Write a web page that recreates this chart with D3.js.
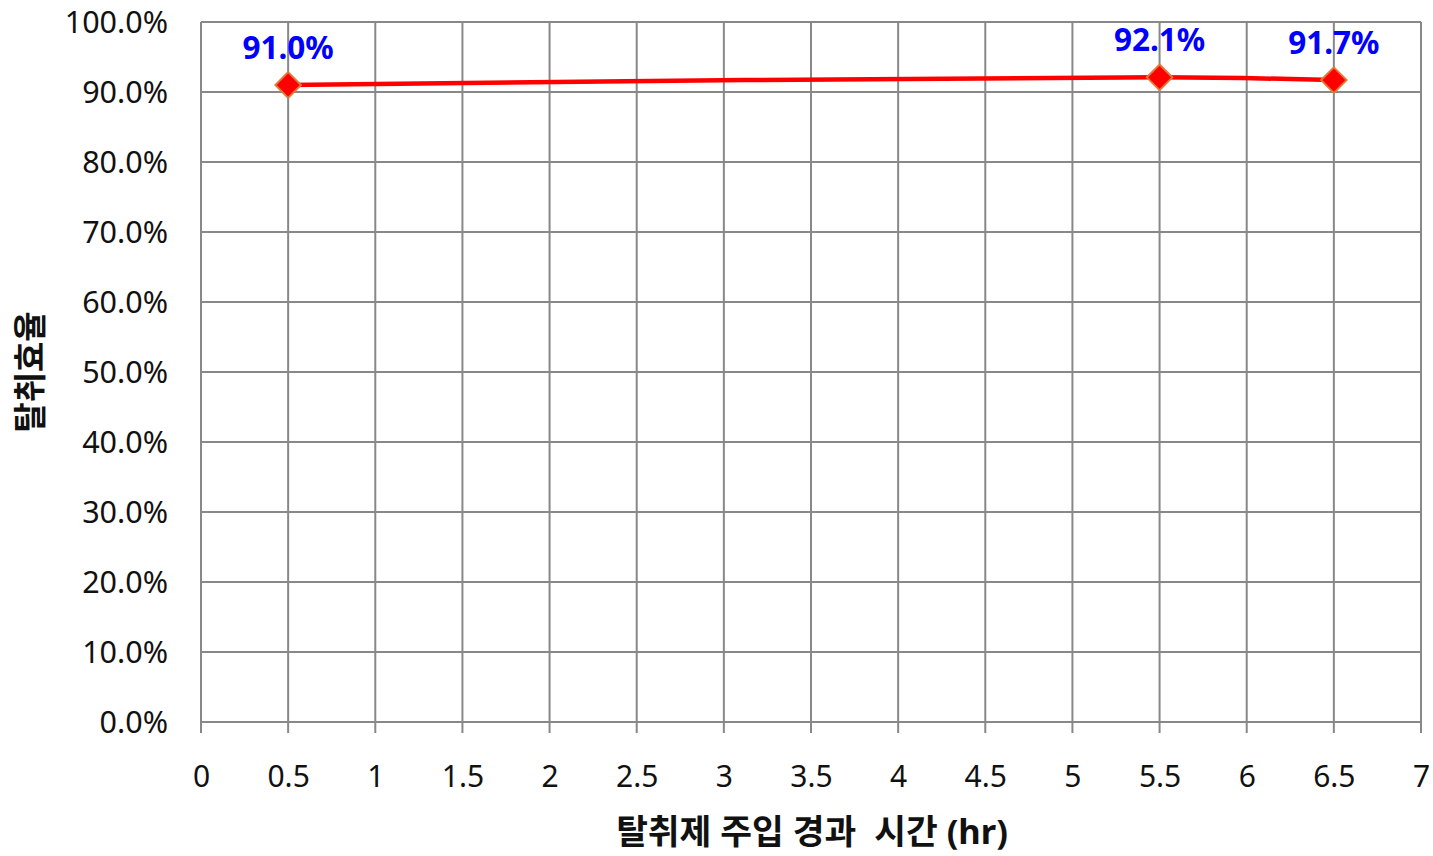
<!DOCTYPE html>
<html>
<head>
<meta charset="utf-8">
<script src="https://cdn.jsdelivr.net/npm/d3@7"></script>
<style>
  body { margin: 0; background: #fff; }
  text { font-family: "Noto Sans", "Noto Sans CJK KR", sans-serif; }
</style>
</head>
<body>
<div id="chart"></div>
<script>
// data
var hours = [0.5, 5.5, 6.5];
var efficiency = [0.91, 0.921, 0.917];
var dataLabels = ["91.0%", "92.1%", "91.7%"];
var xTicks = [0, 0.5, 1, 1.5, 2, 2.5, 3, 3.5, 4, 4.5, 5, 5.5, 6, 6.5, 7];
var yTicks = [0, 0.1, 0.2, 0.3, 0.4, 0.5, 0.6, 0.7, 0.8, 0.9, 1.0];
var xTitle = "탈취제 주입 경과  시간 (hr)";
var yTitle = "탈취효율";

var W = 1433, H = 856;
var margin = { top: 22, right: 12, bottom: 134, left: 201 };
var width = W - margin.left - margin.right;
var height = H - margin.top - margin.bottom;

var svg = d3.select("#chart").append("svg")
  .attr("width", W).attr("height", H);
var g = svg.append("g")
  .attr("transform", `translate(${margin.left},${margin.top})`);

var x = d3.scaleLinear().domain([0, 7]).range([0, width]);
var y = d3.scaleLinear().domain([0, 1]).range([height, 0]);

// grid lines
g.selectAll(".hgrid").data(yTicks).enter().append("line")
  .attr("x1", 0).attr("x2", width)
  .attr("y1", d => y(d)).attr("y2", d => y(d))
  .attr("stroke", "#888").attr("stroke-width", 2);
g.selectAll(".vgrid").data(xTicks).enter().append("line")
  .attr("x1", d => x(d)).attr("x2", d => x(d))
  .attr("y1", 0).attr("y2", height + 11)
  .attr("stroke", "#888").attr("stroke-width", 2);

// x axis labels
var xAxis = g.append("g")
  .attr("transform", `translate(0,${height})`)
  .call(d3.axisBottom(x).tickValues(xTicks).tickSize(0).tickPadding(0)
    .tickFormat(d => d3.format("")(d)));
xAxis.select(".domain").remove();
xAxis.selectAll("text").attr("font-size", 30).attr("fill", "#111")
  .attr("font-family", '"Noto Sans", sans-serif').attr("y", 65).attr("dy", 0);

// y axis labels
var yAxis = g.append("g")
  .call(d3.axisLeft(y).tickValues(yTicks).tickSize(0).tickPadding(33)
    .tickFormat(d3.format(".1%")));
yAxis.select(".domain").remove();
yAxis.selectAll("text").attr("font-size", 30.5).attr("fill", "#111")
  .attr("font-family", '"Noto Sans", sans-serif').attr("dy", "0.34em");

// line
var pts = hours.map((h, i) => ({ h: h, v: efficiency[i], label: dataLabels[i] }));
var line = d3.line()
  .x(d => x(d.h)).y(d => y(d.v))
  .curve(d3.curveCatmullRom.alpha(0.5));
g.append("path").datum(pts)
  .attr("fill", "none").attr("stroke", "#ff0000").attr("stroke-width", 4.5)
  .attr("d", line);

// markers
var diamond = d3.symbol().type(d3.symbolDiamond2).size(300);
g.selectAll(".mark").data(pts).enter().append("path")
  .attr("d", diamond)
  .attr("transform", d => `translate(${x(d.h)},${y(d.v)}) scale(1.18)`)
  .attr("fill", "#ff0000").attr("stroke", "#e07a3a").attr("stroke-width", 1.6);

// data labels
g.selectAll(".lbl").data(pts).enter().append("text")
  .attr("x", d => x(d.h)).attr("y", d => y(d.v) - 26)
  .attr("text-anchor", "middle")
  .attr("font-size", 31.5).attr("font-weight", "bold").attr("fill", "#0000ff")
  .text(d => d.label);

// axis titles
svg.append("text")
  .attr("x", margin.left + width / 2 + 1).attr("y", 844)
  .attr("text-anchor", "middle")
  .attr("font-size", 34.5).attr("font-weight", "bold").attr("fill", "#111")
  .attr("font-family", '"Noto Sans CJK KR", "Noto Sans", sans-serif')
  .attr("xml:space", "preserve").style("white-space", "pre")
  .text(xTitle);
svg.append("text")
  .attr("transform", `translate(42,${margin.top + height / 2}) rotate(-90)`)
  .attr("text-anchor", "middle")
  .attr("font-size", 33).attr("font-weight", "bold").attr("fill", "#111")
  .attr("font-family", '"Noto Sans CJK KR", sans-serif')
  .text(yTitle);
</script>
</body>
</html>
